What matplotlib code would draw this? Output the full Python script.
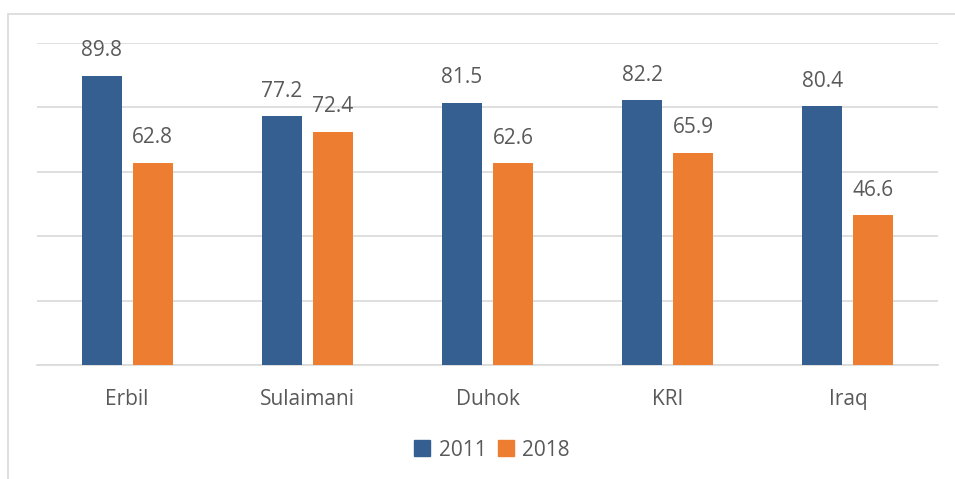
import matplotlib.pyplot as plt
import numpy as np
from matplotlib.lines import Line2D
from matplotlib.patches import Rectangle

categories = ["Erbil", "Sulaimani", "Duhok", "KRI", "Iraq"]
values_2011 = [89.8, 77.2, 81.5, 82.2, 80.4]
values_2018 = [62.8, 72.4, 62.6, 65.9, 46.6]
series_labels = ["2011", "2018"]

BLUE = "#355E91"
ORANGE = "#ED7D31"
TEXT = "#595959"
GRID = "#D9D9D9"

plt.rcParams["font.family"] = ["Open Sans", "DejaVu Sans"]

fig = plt.figure(figsize=(9.55, 4.79), dpi=100)
ax = fig.add_axes([37 / 955, 1 - 365 / 479, (938 - 37) / 955, (365 - 43) / 479])

x = np.arange(len(categories))
width = 0.222
offset = 0.141

for xs, vals, color in ((x - offset, values_2011, BLUE), (x + offset, values_2018, ORANGE)):
    bars = ax.bar(xs, vals, width=width, color=color, zorder=3)
    for bar, v in zip(bars, vals):
        ax.annotate(f"{v:.1f}", (bar.get_x() + bar.get_width() / 2, v),
                    xytext=(0, 14), textcoords="offset points",
                    ha="center", va="baseline", fontsize=15, color=TEXT)

ax.set_xlim(-0.5, len(categories) - 0.5)
ax.set_ylim(0, 100)
ax.set_yticks(np.arange(0, 101, 20))
ax.yaxis.grid(True, color=GRID, linewidth=1.2, zorder=0)
ax.tick_params(axis="y", left=False, labelleft=False)
ax.set_xticks(x)
ax.set_xticklabels(categories, fontsize=15, color=TEXT)
ax.tick_params(axis="x", length=0, pad=17)
for side in ("top", "right", "left"):
    ax.spines[side].set_visible(False)
ax.spines["bottom"].set_color(GRID)
ax.spines["bottom"].set_linewidth(1.2)

handles = [Line2D([], [], marker="s", linestyle="none", markersize=11, color=c)
           for c in (BLUE, ORANGE)]
fig.legend(handles, series_labels, loc="center", bbox_to_anchor=(491 / 955, 1 - 450 / 479),
           ncol=2, frameon=False, fontsize=15, labelcolor=TEXT,
           handlelength=1.0, handletextpad=0.3, columnspacing=0.4)

# chart border (right and bottom edges fall outside the image)
fig.patches.append(Rectangle((7.5 / 955, -0.1), 1.5, 1 - 14.5 / 479 + 0.1,
                             transform=fig.transFigure, fill=False,
                             edgecolor=GRID, linewidth=1.2))

fig.savefig("out.png", dpi=100)
